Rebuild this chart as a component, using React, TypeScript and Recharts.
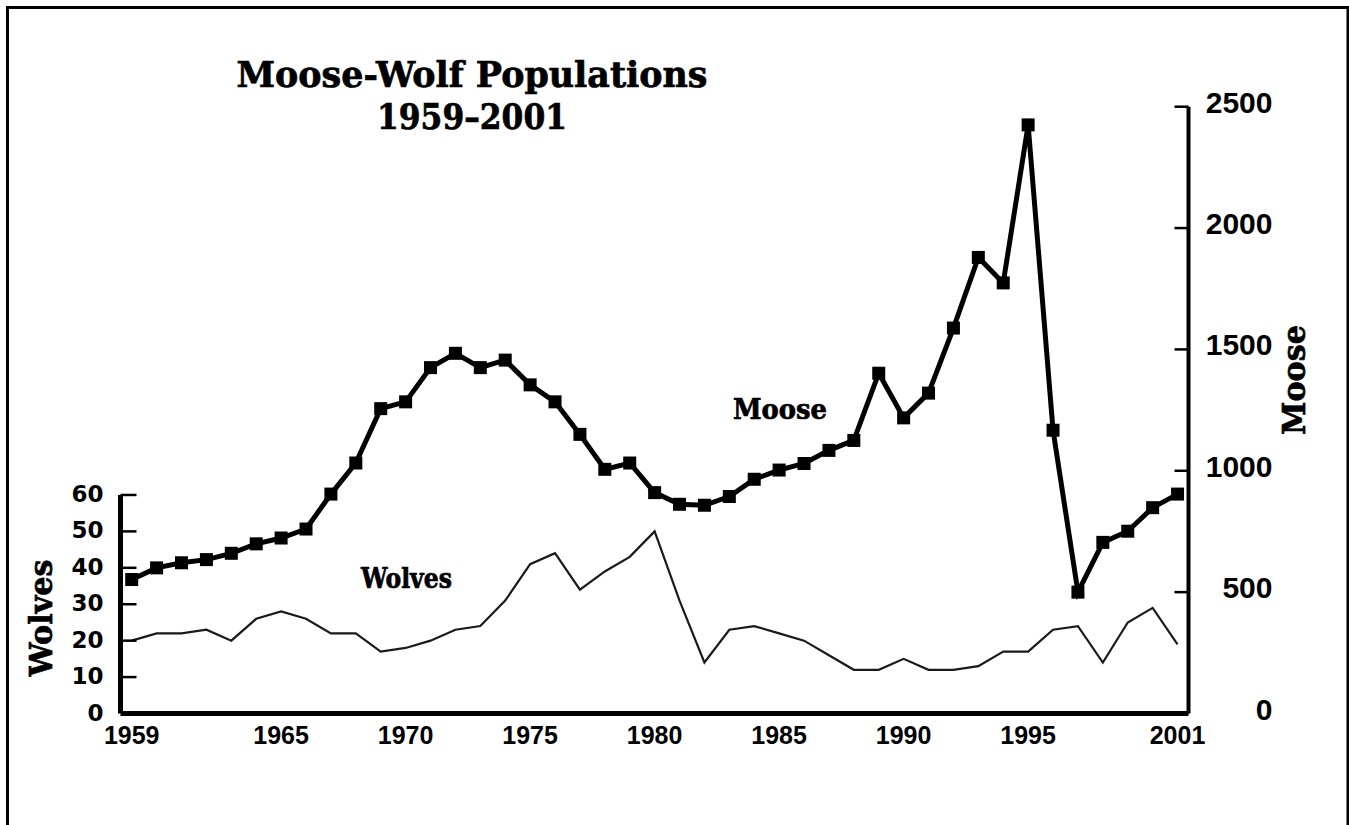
import React from 'react';
import { LineChart, Line, XAxis, YAxis, ReferenceLine } from 'recharts';

const YEARS = [
  1959, 1960, 1961, 1962, 1963, 1964, 1965, 1966, 1967, 1968, 1969,
  1970, 1971, 1972, 1973, 1974, 1975, 1976, 1977, 1978, 1979,
  1980, 1981, 1982, 1983, 1984, 1985, 1986, 1987, 1988, 1989,
  1990, 1991, 1992, 1993, 1994, 1995, 1996, 1997, 1998, 1999,
  2000, 2001,
];
const MOOSE = [
  552, 600, 621, 634, 660, 699, 723, 760, 904, 1032, 1256,
  1284, 1425, 1484, 1425, 1456, 1354, 1284, 1150, 1006, 1032,
  910, 862, 858, 894, 965, 1003, 1030, 1084, 1125, 1402,
  1218, 1320, 1588, 1879, 1774, 2425, 1167, 500, 705, 751,
  848, 904,
];
const WOLVES = [
  20, 22, 22, 23, 20, 26, 28, 26, 22, 22, 17,
  18, 20, 23, 24, 31, 41, 44, 34, 39, 43,
  50, 31, 14, 23, 24, 22, 20, 16, 12, 12,
  15, 12, 12, 13, 17, 17, 23, 24, 14, 25,
  29, 19,
];
const X_TICKS = [1959, 1965, 1970, 1975, 1980, 1985, 1990, 1995, 2001];
const WOLF_TICKS = [0, 10, 20, 30, 40, 50, 60];
const MOOSE_TICKS = [0, 500, 1000, 1500, 2000, 2500];
const TITLE_LINES = ['Moose-Wolf Populations', '1959–2001'];
const X_DOMAIN: [number, number] = [1958.55, 2001.44];
const WOLF_DOMAIN: [number, number] = [0, 166.6];
const MOOSE_DOMAIN: [number, number] = [0, 2500];

const data = YEARS.map((year, i) => ({ year, moose: MOOSE[i], wolves: WOLVES[i] }));

const SANS = 'Liberation Sans, Arial, sans-serif';
const SERIF = 'DejaVu Serif, serif';
const SERIF_STYLE = { fontFamily: SERIF, fontWeight: 700, fill: '#000', stroke: '#000', strokeWidth: 0.7 } as const;

const LeftTick = (p: any) => {
  const { x, y, payload } = p;
  return (
    <g>
      {payload.value > 0 && (
        <line x1={x} x2={x + 16} y1={y} y2={y} stroke="#000" strokeWidth={2.5} />
      )}
      <text x={x - 17} y={y + 7} textAnchor="end" fontFamily="DejaVu Sans, sans-serif" fontWeight={700} fontSize={23} fill="#000">
        {payload.value}
      </text>
    </g>
  );
};

const RightTick = (p: any) => {
  const { x, y, payload } = p;
  return (
    <g>
      {payload.value > 0 && (
        <line x1={x - 14} x2={x} y1={y} y2={y} stroke="#000" strokeWidth={2.5} />
      )}
      <text x={x + 84} y={y + 6} textAnchor="end" fontFamily={SANS} fontWeight={700} fontSize={30} fill="#000">
        {payload.value}
      </text>
    </g>
  );
};

const BottomTick = (p: any) => {
  const { x, y, payload } = p;
  return (
    <text x={x} y={y + 30} textAnchor="middle" fontFamily={SANS} fontWeight={700} fontSize={25} fill="#000">
      {payload.value}
    </text>
  );
};

const SquareDot = (p: any) => {
  const { cx, cy, index } = p;
  if (cx == null || cy == null) return <g key={index} />;
  return <rect key={index} x={cx - 6.5} y={cy - 6.5} width={13} height={13} fill="#000" />;
};

export default function App() {
  return (
    <div style={{ position: 'absolute', left: 0, top: 0, width: 1349, height: 825, background: '#fff', overflow: 'hidden' }}>
      <LineChart
        width={1349}
        height={825}
        data={data}
        margin={{ top: 106.7, right: 60.5, bottom: 71.5, left: 60.5 }}
      >
        <XAxis
          dataKey="year"
          type="number"
          domain={X_DOMAIN}
          allowDataOverflow
          ticks={X_TICKS}
          interval={0}
          height={40}
          tickSize={0}
          tickMargin={0}
          tickLine={false}
          axisLine={{ stroke: '#000', strokeWidth: 5 }}
          tick={BottomTick}
        />
        <YAxis
          yAxisId="wolves"
          orientation="left"
          type="number"
          domain={WOLF_DOMAIN}
          allowDataOverflow
          ticks={WOLF_TICKS}
          interval={0}
          width={60}
          tickSize={0}
          tickMargin={0}
          tickLine={false}
          axisLine={false}
          tick={LeftTick}
        />
        <YAxis
          yAxisId="moose"
          orientation="right"
          type="number"
          domain={MOOSE_DOMAIN}
          ticks={MOOSE_TICKS}
          interval={0}
          width={100}
          tickSize={0}
          tickMargin={0}
          tickLine={false}
          axisLine={{ stroke: '#000', strokeWidth: 4 }}
          tick={RightTick}
        />
        <ReferenceLine
          yAxisId="wolves"
          segment={[{ x: X_DOMAIN[0], y: 0 }, { x: X_DOMAIN[0], y: WOLF_TICKS[WOLF_TICKS.length - 1] }]}
          stroke="#000"
          strokeWidth={5}
          ifOverflow="visible"
        />
        <Line
          yAxisId="wolves"
          type="linear"
          dataKey="wolves"
          stroke="#1a1a1a"
          strokeWidth={2.2}
          dot={false}
          activeDot={false}
          isAnimationActive={false}
        />
        <Line
          yAxisId="moose"
          type="linear"
          dataKey="moose"
          stroke="#000"
          strokeWidth={5}
          dot={SquareDot}
          activeDot={false}
          isAnimationActive={false}
        />
      </LineChart>
      <svg width={1349} height={825} style={{ position: 'absolute', left: 0, top: 0, pointerEvents: 'none' }}>
        <path d="M7.5 830 V7.5 H1348 V830" fill="none" stroke="#000" strokeWidth={3} />
        <text x={472} y={87} textAnchor="middle" {...SERIF_STYLE} fontSize={35} textLength={471} lengthAdjust="spacingAndGlyphs">
          {TITLE_LINES[0]}
        </text>
        <text x={472} y={129} textAnchor="middle" {...SERIF_STYLE} fontSize={35} textLength={190} lengthAdjust="spacingAndGlyphs">
          {TITLE_LINES[1]}
        </text>
        <text x={733} y={419} {...SERIF_STYLE} fontSize={27} textLength={94} lengthAdjust="spacingAndGlyphs">
          Moose
        </text>
        <text x={361} y={588} {...SERIF_STYLE} fontSize={27} textLength={91} lengthAdjust="spacingAndGlyphs">
          Wolves
        </text>
        <text transform="translate(52,618) rotate(-90)" textAnchor="middle" {...SERIF_STYLE} fontSize={32} textLength={117} lengthAdjust="spacingAndGlyphs">
          Wolves
        </text>
        <text transform="translate(1305,380) rotate(-90)" textAnchor="middle" {...SERIF_STYLE} fontSize={32} textLength={110} lengthAdjust="spacingAndGlyphs">
          Moose
        </text>
      </svg>
    </div>
  );
}
